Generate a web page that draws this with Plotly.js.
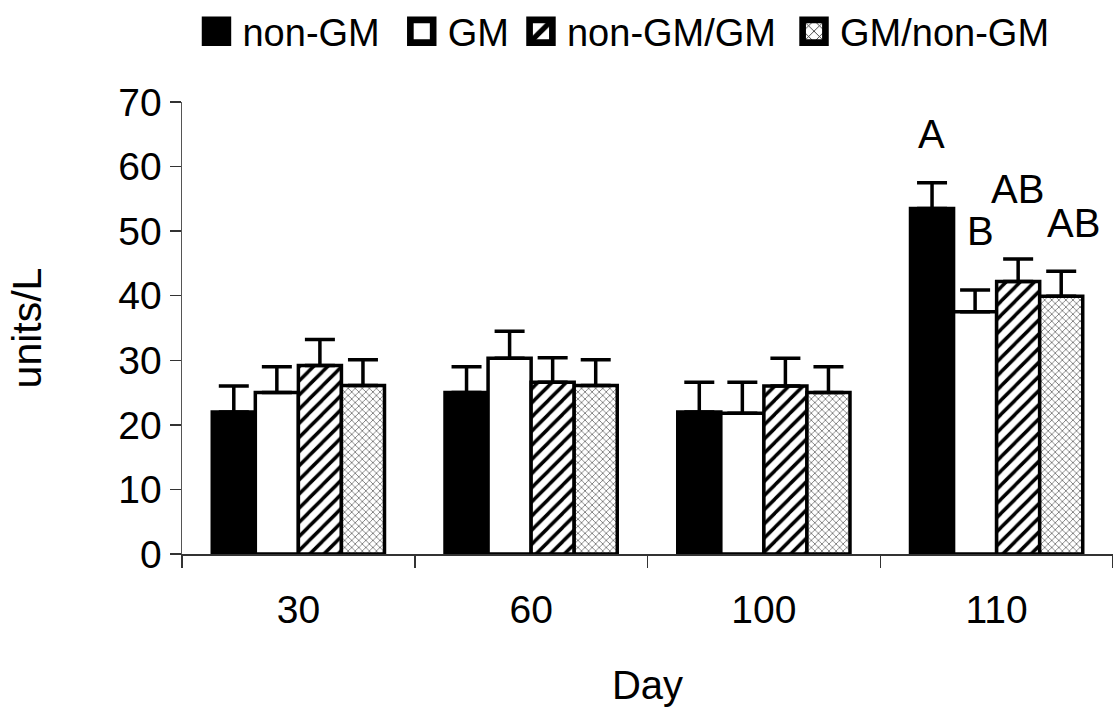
<!DOCTYPE html>
<html><head><meta charset="utf-8">
<script src="https://cdn.plot.ly/plotly-3.0.1.min.js"></script>
<style>html,body{margin:0;padding:0;background:#fff}#chart{width:1113px;height:713px}</style>
</head><body><div id="chart"></div>
<script>
const days = ['30', '60', '100', '110'];
const nonGM = [22, 25, 22, 53.5];
const nonGMErr = [4, 4, 4.6, 4];
const GM = [25, 30.3, 21.8, 37.5];
const GMErr = [4, 4.2, 4.8, 3.4];
const nonGMGM = [29.2, 26.6, 26, 42.2];
const nonGMGMErr = [4, 3.8, 4.3, 3.5];
const GMnonGM = [26.1, 26.1, 25, 39.9];
const GMnonGMErr = [4, 4, 4, 3.9];
const sigLabels = ['A', 'B', 'AB', 'AB'];
const sigX = [2.72, 2.93, 3.09, 3.33];
const sigY = [65, 50, 56.6, 51.2];

const font = 'Liberation Sans, Arial, sans-serif';
function errs(a){return {type:'data', array:a, arrayminus:a.map(()=>0), symmetric:false, color:'#000', thickness:3.5, width:15};}
const line = {color:'#000', width:3.5};
const traces = [
  {type:'bar', name:'non-GM', x:days, y:nonGM, error_y:errs(nonGMErr), marker:{color:'#000', line:line}},
  {type:'bar', name:'GM', x:days, y:GM, error_y:errs(GMErr), marker:{color:'#fff', line:line}},
  {type:'bar', name:'non-GM/GM', x:days, y:nonGMGM, error_y:errs(nonGMGMErr), marker:{color:'#fff', line:line, pattern:{shape:'/', fgcolor:'#000', bgcolor:'#fff', size:10, solidity:0.35}}},
  {type:'bar', name:'GM/non-GM', x:days, y:GMnonGM, error_y:errs(GMnonGMErr), marker:{color:'#fff', line:line, pattern:{shape:'x', fgcolor:'#222', bgcolor:'#fff', size:5, solidity:0.2}}}
];
const annotations = sigLabels.map((t,i)=>({x:sigX[i], y:sigY[i], xref:'x', yref:'y', text:t, showarrow:false, font:{family:font, size:40, color:'#000'}}));
const layout = {
  width:1113, height:713,
  margin:{l:182, r:0, t:101, b:159},
  paper_bgcolor:'#fff', plot_bgcolor:'#fff',
  barmode:'group', bargap:0.26, bargroupgap:0,
  showlegend:true,
  legend:{orientation:'h', x:0.022, xanchor:'left', y:1.157, yanchor:'middle', font:{family:font, size:38, color:'#000'}, traceorder:'normal', bgcolor:'rgba(0,0,0,0)'},
  xaxis:{type:'category', showline:true, linecolor:'#333', linewidth:1.5, ticks:'outside', tickson:'boundaries', ticklen:12, tickcolor:'#333', tickwidth:1.5,
    tickfont:{family:font, size:39, color:'#000'}, ticklabelstandoff:21, showgrid:false, zeroline:false,
    title:{text:'Day', font:{family:font, size:40, color:'#000'}, standoff:40}},
  yaxis:{range:[0,70], dtick:10, showline:true, linecolor:'#555', linewidth:1.5, ticks:'outside', ticklen:11, tickcolor:'#333', tickwidth:1.5,
    tickfont:{family:font, size:39, color:'#000'}, showgrid:false, zeroline:false,
    title:{text:'units/L', font:{family:font, size:41, color:'#000'}, standoff:64}},
  annotations:annotations
};
Plotly.newPlot('chart', traces, layout, {displayModeBar:false, staticPlot:true}).then(function(gd){
  // enlarge legend swatches and widen spacing between legend entries, as in the reference
  var extra = [0, 23, 36, 55];
  gd.querySelectorAll('.legend [clip-path]').forEach(function(el){ el.removeAttribute('clip-path'); });
  gd.querySelectorAll('.legend .legendpoints path').forEach(function(p){
    var t = p.getAttribute('transform') || '';
    p.setAttribute('transform', t + ' translate(-6,0) scale(1.9)');
  });
  gd.querySelectorAll('.legend g.traces').forEach(function(g, i){
    var t = g.getAttribute('transform') || '';
    var m = /translate\(([-\d.]+)[ ,]+([-\d.]+)\)/.exec(t);
    if (m) g.setAttribute('transform', 'translate(' + (parseFloat(m[1]) + (extra[i] || 0)) + ',' + m[2] + ')');
  });
});
</script></body></html>
